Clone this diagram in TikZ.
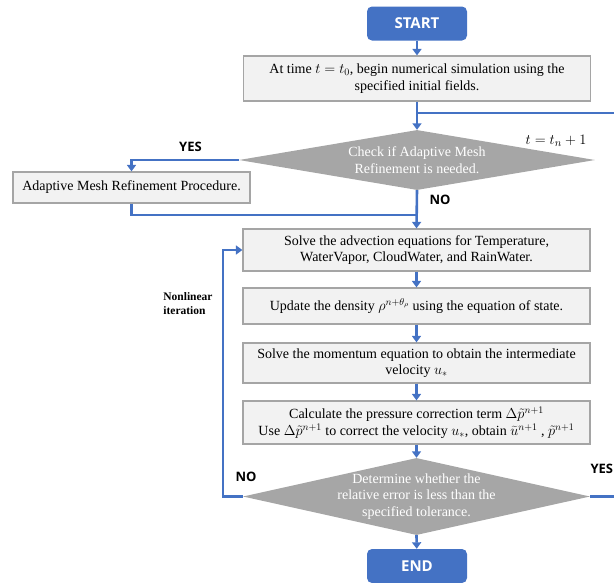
\documentclass[tikz,border=0pt]{standalone}
\usepackage{fontspec}
\setmainfont{Liberation Serif}
\newfontfamily\labfont{Open Sans}
\usetikzlibrary{shapes.geometric,arrows.meta}
\definecolor{myblue}{HTML}{4472C4}
\definecolor{boxfill}{HTML}{F2F2F2}
\definecolor{boxline}{HTML}{A5A5A5}
\definecolor{dia}{HTML}{A6A6A6}
\begin{document}
\begin{tikzpicture}[x=1pt,y=-1pt,
  proc/.style={draw=boxline, fill=boxfill, line width=1.2pt, inner sep=0pt, align=center,
    minimum width=347pt, font=\fontsize{14}{16.5}\selectfont},
  term/.style={fill=myblue, rounded corners=5pt, text=white, inner sep=0pt,
    minimum width=100pt, minimum height=34pt, font=\labfont\bfseries\fontsize{15}{17}\selectfont},
  dec/.style={diamond, fill=dia, inner sep=0pt},
  dectext/.style={text=white, align=center, font=\fontsize{14}{16.5}\selectfont},
  conn/.style={draw=myblue, line width=2.6pt},
  arr/.style={conn, -{Triangle[width=9pt,length=6.5pt]}},
  lab/.style={font=\labfont\bfseries\fontsize{13}{15}\selectfont},
]
\useasboundingbox (0,0) rectangle (614,582);

\node[term] (start) at (417,23.5) {START};
\node[proc, minimum height=45pt] (box1) at (417,78.5)
  {At time $t=t_0$, begin numerical simulation using the\\ specified initial fields.};
\node[dec, minimum width=356pt, minimum height=60pt,
  label={[dectext]center:Check if Adaptive Mesh\\Refinement is needed.}] (d1) at (417,160) {};
\node[proc, minimum width=237pt, minimum height=31pt] (amr) at (131.5,187.5)
  {Adaptive Mesh Refinement Procedure.};
\node[proc, minimum height=42pt] (box2) at (416.5,250)
  {Solve the advection equations for Temperature,\\ WaterVapor, CloudWater, and RainWater.};
\node[proc, minimum height=36pt] (box3) at (416.5,306)
  {Update the density $\rho^{n+\theta_\rho}$ using the equation of state.};
\node[proc, minimum height=40pt] (box4) at (416.5,363)
  {Solve the momentum equation to obtain the intermediate\\ velocity $u_*$};
\node[proc, minimum height=43pt, font=\fontsize{14}{17}\selectfont] (box5) at (416.5,422.5)
  {Calculate the pressure correction term $\Delta\tilde{p}^{n+1}$\\
   Use $\Delta\tilde{p}^{n+1}$ to correct the velocity $u_*$, obtain $\widetilde{u}^{n+1}$ ,\ $\tilde{p}^{n+1}$};
\node[dec, minimum width=347pt, minimum height=77pt,
  label={[dectext]center:Determine whether the\\relative error is less than the\\specified tolerance.}] (d2) at (416.5,496.5) {};
\node[term] (end) at (417,566) {END};

\node[font=\fontsize{15}{17}\selectfont] (tlab) at (556,141) {$t=t_n+1$};
\node[lab] (yes1) at (190.5,146.5) {YES};
\node[lab] (no1) at (440,199.5) {NO};
\node[lab] (no2) at (246,476.5) {NO};
\node[lab, anchor=west] (yes2) at (587,468.5) {YES};
\node[font=\bfseries\fontsize{11.5}{14}\selectfont, align=left] (nli) at (188,304) {Nonlinear\\iteration};

\coordinate (br) at (614,113);
\coordinate (j) at (417,215);
\coordinate (lp) at (223,496.5);
\coordinate (ye) at (614,496.5);

\draw[arr] (start) -- (box1);
\draw[arr] (box1) -- (d1.north);
\draw[conn] (box1.south |- br) -- (br);
\draw[arr] (d1.west) -| (amr.north);
\draw[conn] (amr.south) |- (j);
\draw[arr] (d1.south) -- (box2.north);
\draw[arr] (box2) -- (box3);
\draw[arr] (box3) -- (box4);
\draw[arr] (box4) -- (box5);
\draw[arr] (box5) -- (d2.north);
\draw[arr] (d2.south) -- (end);
\draw[arr] (d2.west) -- (lp) |- (box2.west);
\draw[conn] (d2.east) -- (ye);
\end{tikzpicture}
\end{document}
